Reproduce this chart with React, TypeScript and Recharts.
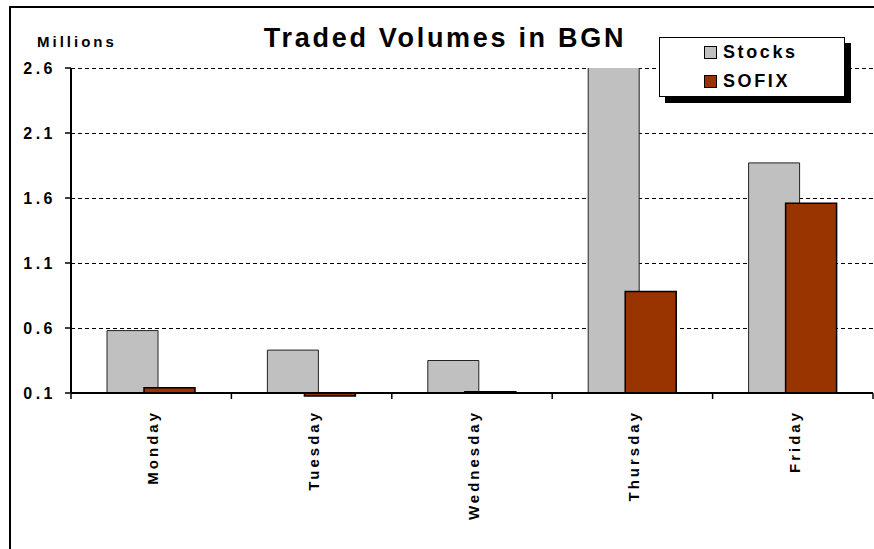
import { BarChart, Bar, XAxis, YAxis, CartesianGrid, Legend } from 'recharts';

// weekly traded volumes, millions BGN
const days = ['Monday', 'Tuesday', 'Wednesday', 'Thursday', 'Friday'];
const stocks = [0.58, 0.43, 0.35, 2.75, 1.87];
const sofix = [0.14, 0.077, 0.11, 0.88, 1.56];
const yTicks = [0.1, 0.6, 1.1, 1.6, 2.1, 2.6];

const data = days.map((day, i) => ({ day, Stocks: stocks[i], SOFIX: sofix[i] }));

const W = 874;
const H = 549;
const MARGIN = { top: 68, right: 1, left: 9, bottom: 6 };
const Y_AXIS_W = 62;
const X_AXIS_H = 150;
const FONT = 'Arial, "Liberation Sans", Helvetica, sans-serif';
const GRAY = '#C0C0C0';
const RUST = '#993300';
const band = (W - MARGIN.left - Y_AXIS_W - MARGIN.right) / days.length;

function YTick(props: any) {
  const { x, y, payload } = props;
  return (
    <text
      x={x - 9}
      y={y + 6}
      textAnchor="end"
      fontFamily={FONT}
      fontWeight="bold"
      fontSize={16}
      style={{ letterSpacing: 3.5 }}
      fill="#000"
    >
      {Number(payload.value).toFixed(1)}
    </text>
  );
}

function DayTick(props: any) {
  const { x, y, payload, index } = props;
  const left = x - band / 2;
  return (
    <g>
      <line x1={left} y1={y} x2={left} y2={y + 6} stroke="#000" strokeWidth={1.5} />
      {index === days.length - 1 && (
        <line x1={x + band / 2} y1={y} x2={x + band / 2} y2={y + 6} stroke="#000" strokeWidth={1.5} />
      )}
      <text
        transform={`translate(${x + 7},${y + 17}) rotate(-90)`}
        textAnchor="end"
        fontFamily={FONT}
        fontWeight="bold"
        fontSize={15}
        style={{ letterSpacing: 3 }}
        fill="#000"
      >
        {payload.value}
      </text>
    </g>
  );
}

function LegendBox() {
  const rows = [
    { name: 'Stocks', color: GRAY },
    { name: 'SOFIX', color: RUST },
  ];
  return (
    <div
      style={{
        width: 186,
        height: 60,
        boxSizing: 'border-box',
        border: '1px solid #000',
        background: '#fff',
        boxShadow: '6px 6px 0 #000',
        fontFamily: FONT,
        fontWeight: 'bold',
        fontSize: 18,
        letterSpacing: 2.6,
        color: '#000',
      }}
    >
      {rows.map((r) => (
        <div key={r.name} style={{ height: 29, display: 'flex', alignItems: 'center', paddingLeft: 44 }}>
          <span
            style={{
              width: 11,
              height: 11,
              border: '1px solid #000',
              background: r.color,
              marginRight: 6,
              display: 'inline-block',
            }}
          />
          <span>{r.name}</span>
        </div>
      ))}
    </div>
  );
}

export default function App() {
  return (
    <div style={{ position: 'absolute', left: 0, top: 0, width: W, height: H, overflow: 'hidden', background: '#fff' }}>
      {/* SOFIX dips a little below the 0.1 baseline on Tuesday, keep it visible; crisp dashed grid */}
      <style>
        {'.sofix-bar .recharts-bar-rectangles { clip-path: none; } .recharts-cartesian-grid line { shape-rendering: crispEdges; }'}
      </style>
      <div
        style={{
          position: 'absolute',
          left: 9,
          top: 6,
          width: 900,
          height: 600,
          border: '2px solid #000',
        }}
      />
      <div style={{ position: 'absolute', left: 0, top: 0 }}>
        <BarChart width={W} height={H} data={data} margin={MARGIN} barGap={-14} barSize={51}>
          <CartesianGrid vertical={false} stroke="#000" strokeDasharray="4 3" />
          <XAxis
            dataKey="day"
            height={X_AXIS_H}
            interval={0}
            tickLine={false}
            tickSize={0}
            tickMargin={0}
            axisLine={{ stroke: '#000', strokeWidth: 2 }}
            tick={<DayTick />}
          />
          <YAxis
            type="number"
            domain={[0.1, 2.6]}
            ticks={yTicks}
            allowDataOverflow
            interval={0}
            width={Y_AXIS_W}
            tickSize={6}
            tickMargin={0}
            axisLine={{ stroke: '#000', strokeWidth: 2 }}
            tickLine={{ stroke: '#000', strokeWidth: 1.5 }}
            tick={<YTick />}
          />
          <Legend
            layout="vertical"
            align="center"
            verticalAlign="middle"
            wrapperStyle={{ left: 659, top: 37, width: 186 }}
            content={() => <LegendBox />}
          />
          <Bar dataKey="Stocks" fill={GRAY} stroke="#222" strokeWidth={1} isAnimationActive={false} />
          <Bar
            dataKey="SOFIX"
            className="sofix-bar"
            fill={RUST}
            stroke="#000"
            strokeWidth={1.5}
            isAnimationActive={false}
          />
        </BarChart>
      </div>
      <svg width={W} height={H} style={{ position: 'absolute', left: 0, top: 0, pointerEvents: 'none' }}>
        <text
          x={445}
          y={47}
          textAnchor="middle"
          fontFamily={FONT}
          fontWeight="bold"
          fontSize={27}
          style={{ letterSpacing: 2.7 }}
          fill="#000"
        >
          Traded Volumes in BGN
        </text>
        <text x={37} y={47} fontFamily={FONT} fontWeight="bold" fontSize={15} style={{ letterSpacing: 3 }} fill="#000">
          Millions
        </text>
      </svg>
    </div>
  );
}
